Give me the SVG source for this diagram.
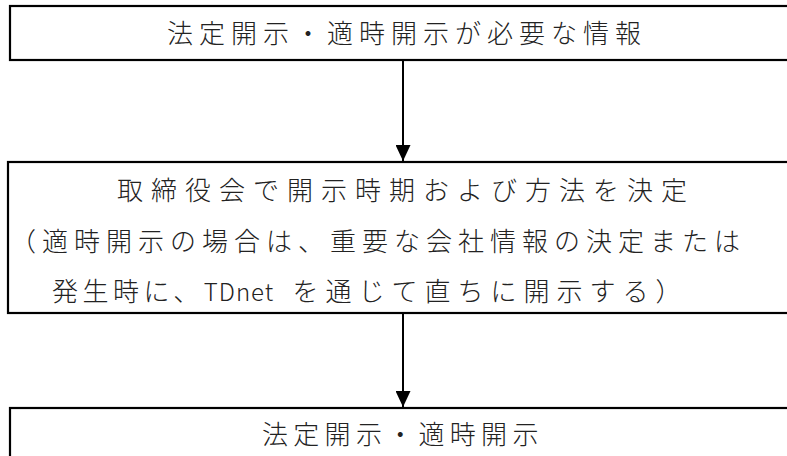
<svg xmlns="http://www.w3.org/2000/svg" width="787" height="456" viewBox="0 0 787 456">
<style>
.box{fill:#fff;stroke:#000;stroke-width:2.2}
.t{font-family:"Noto Sans CJK JP","Noto Sans",sans-serif;font-size:26px;font-weight:300;fill:#222}
.conn{stroke:#000;stroke-width:2;fill:none}
</style>
<defs>
<marker id="ah" viewBox="0 0 16 15" refX="16" refY="7.5" markerWidth="16" markerHeight="15" markerUnits="userSpaceOnUse" orient="auto">
<path d="M0,0 L16,7.5 L0,15 z" fill="#000"/>
</marker>
</defs>
<rect x="0" y="0" width="787" height="456" fill="#fff"/>
<g id="node-info">
<rect class="box" x="10" y="6" width="800" height="54"/>
<text class="t" x="167" y="43" style="letter-spacing:6px">法定開示・適時開示が必要な情報</text>
</g>
<g id="node-board">
<rect class="box" x="8" y="162" width="800" height="151"/>
<text class="t" x="117" y="200" style="letter-spacing:8px">取締役会で開示時期および方法を決定</text>
<text class="t" x="10" y="251" style="letter-spacing:6px">（適時開示の場合は、重要な会社情報の決定または</text>
<text class="t" x="52" y="301"><tspan style="letter-spacing:4.5px">発生時に、</tspan><tspan style="font-size:24px;letter-spacing:1px">TDnet </tspan><tspan dx="12" style="letter-spacing:7px">を通じて直ちに開示する）</tspan></text>
</g>
<g id="node-disclosure">
<rect class="box" x="10" y="408" width="800" height="80"/>
<text class="t" x="262" y="444" style="letter-spacing:5.3px">法定開示・適時開示</text>
</g>
<g id="connectors">
<line class="conn" x1="403" y1="61" x2="403" y2="161" marker-end="url(#ah)"/>
<line class="conn" x1="403" y1="314" x2="403" y2="407" marker-end="url(#ah)"/>
</g>
</svg>
